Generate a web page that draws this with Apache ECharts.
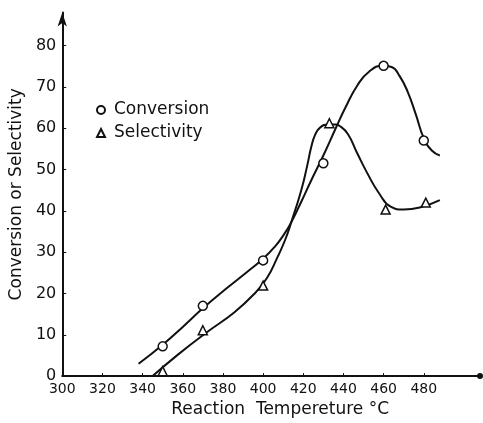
<!DOCTYPE html>
<html>
<head>
<meta charset="utf-8">
<script src="https://cdn.jsdelivr.net/npm/echarts@6/dist/echarts.min.js"></script>
<style>html,body{margin:0;padding:0;background:#fff;}#c{width:483px;height:423px;}</style>
</head>
<body>
<div id="c"></div>
<script>
// measured points
var convT = [350, 370, 400, 430, 460, 480];
var convV = [7.2, 17, 28, 51.5, 75.1, 57];
var selT = [350, 370, 400, 433, 461, 481];
var selV = [1.2, 11.1, 21.9, 61.2, 40.3, 42];
// hand-drawn fitted curves
var convCurveT = [338, 350, 360, 370, 382, 392, 400, 406, 410, 414, 419, 424, 430, 436, 441, 447, 453, 459.5, 464, 468, 472, 476, 480, 484, 488];
var convCurveV = [3.0, 7.6, 11.9, 16.4, 21.3, 25.2, 28.4, 31.4, 34.0, 37.2, 42.2, 47.4, 53.4, 59.8, 65.0, 70.4, 73.8, 75.1, 74.8, 72.6, 68.8, 63.4, 57.6, 54.6, 53.4];
var selCurveT = [345, 357.6, 372, 385.6, 395.4, 402, 407, 411, 414, 419, 422, 424, 426, 428.5, 432.4, 436, 438, 442.2, 447, 452, 457.8, 463.5, 470, 478, 488];
var selCurveV = [0, 5.2, 10.6, 15.4, 19.8, 23.8, 28.6, 33, 37.2, 45, 51, 55.5, 58.5, 60.2, 60.9, 60.9, 60.6, 58.6, 53.8, 49, 44.2, 41, 40.3, 40.8, 42.6];
var xTicks = [300, 320, 340, 360, 380, 400, 420, 440, 460, 480];
var yTicks = [0, 10, 20, 30, 40, 50, 60, 70, 80];

function pairs(a, b) { return a.map(function (v, i) { return [v, b[i]]; }); }

var FONT = 'DejaVu Sans';
var INK = '#111';
var chart = echarts.init(document.getElementById('c'), null, {renderer: 'canvas'});
chart.setOption({
  backgroundColor: '#fff',
  animation: false,
  grid: {left: 57, right: 3, top: 12.5, bottom: 44},
  legend: {
    orient: 'vertical',
    left: 91, top: 96,
    itemWidth: 8, itemHeight: 8,
    itemGap: 5,
    data: [{name: 'Conversion', icon: 'circle'}, {name: 'Selectivity', icon: 'triangle'}],
    textStyle: {fontFamily: FONT, fontSize: 17, color: INK, lineHeight: 18, padding: [0, 0, 0, 4]}
  },
  xAxis: {
    type: 'value', min: 300, max: 508, interval: 20,
    name: 'Reaction  Tempereture °C',
    nameLocation: 'middle', nameGap: 20,
    nameTextStyle: {fontFamily: FONT, fontSize: 17, color: INK, padding: [0, 0, 0, 18]},
    axisLine: {show: true, onZero: false, symbol: ['none', 'circle'], symbolSize: [6, 6], lineStyle: {color: INK, width: 2}},
    axisTick: {show: true, inside: true, length: 3, customValues: xTicks, lineStyle: {color: INK, width: 1}},
    axisLabel: {customValues: xTicks, fontFamily: FONT, fontSize: 14, color: INK, margin: 6},
    splitLine: {show: false}
  },
  yAxis: {
    type: 'value', min: 0, max: 88, interval: 10,
    name: 'Conversion or Selectivity',
    nameLocation: 'middle', nameGap: 28,
    nameTextStyle: {fontFamily: FONT, fontSize: 17, color: INK},
    axisLine: {show: true, symbol: ['none', 'arrow'], symbolSize: [7, 14], lineStyle: {color: INK, width: 2}},
    axisTick: {show: true, inside: true, length: 4, customValues: yTicks, lineStyle: {color: INK, width: 1}},
    axisLabel: {customValues: yTicks, fontFamily: FONT, fontSize: 16, color: INK, margin: 6},
    splitLine: {show: false}
  },
  series: [
    {type: 'line', name: 'convCurve', data: pairs(convCurveT, convCurveV), smooth: 0.5, showSymbol: false,
     lineStyle: {color: INK, width: 2}, z: 2},
    {type: 'line', name: 'selCurve', data: pairs(selCurveT, selCurveV), smooth: 0.5, showSymbol: false,
     lineStyle: {color: INK, width: 2}, z: 2},
    {type: 'scatter', name: 'Conversion', data: pairs(convT, convV), symbol: 'circle', symbolSize: 9,
     itemStyle: {color: '#fff', borderColor: INK, borderWidth: 1.5, opacity: 1}, z: 5},
    {type: 'scatter', name: 'Selectivity', data: pairs(selT, selV), symbol: 'triangle', symbolSize: 9,
     itemStyle: {color: '#fff', borderColor: INK, borderWidth: 1.5, opacity: 1}, z: 5}
  ]
});
</script>
</body>
</html>
